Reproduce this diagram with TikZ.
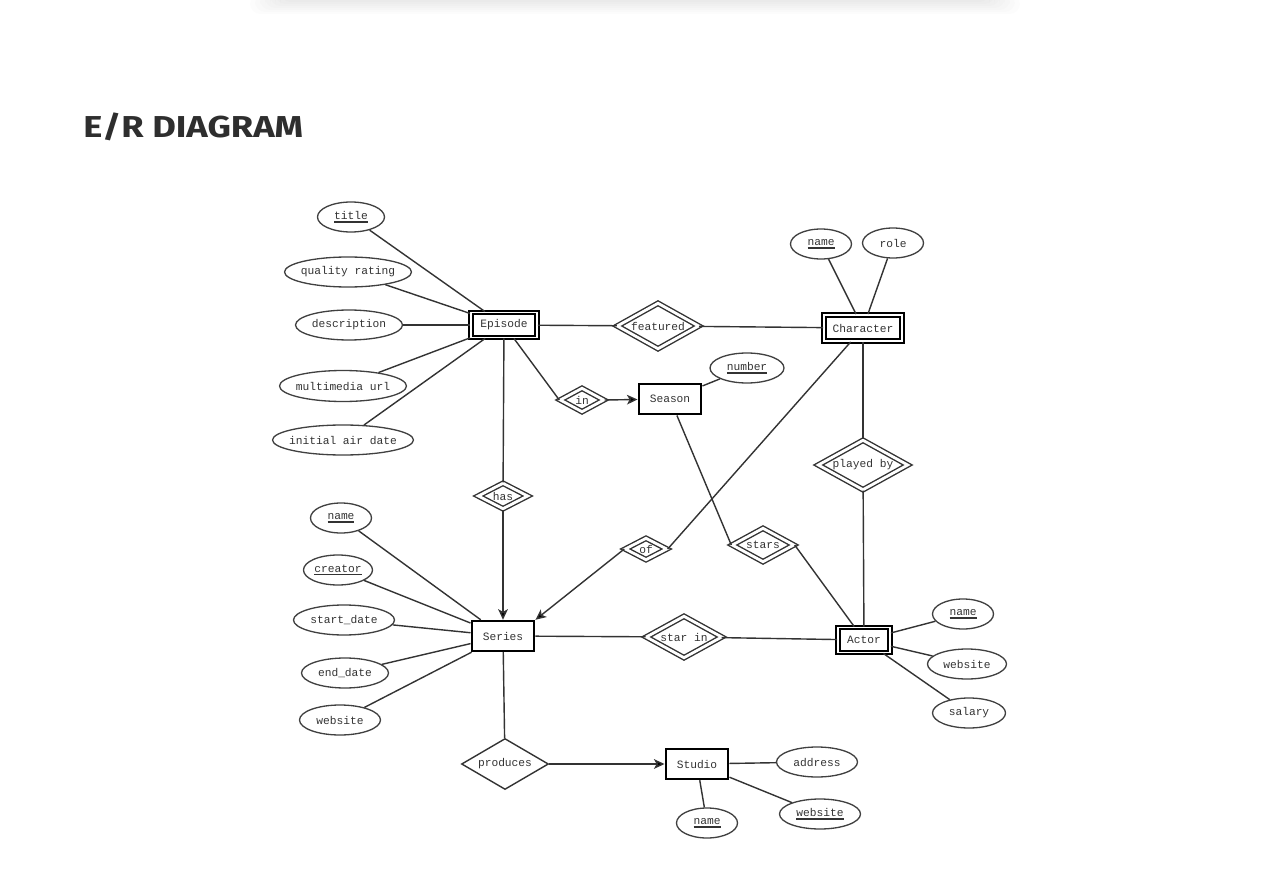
\documentclass[tikz,border=0pt]{standalone}
\usepackage{fontspec}
\setmonofont{Liberation Mono}
\newfontfamily\titlefont{Fira Sans}
\usetikzlibrary{shapes.geometric, arrows.meta}

\newcommand{\keyattr}[1]{\setbox0=\hbox{#1}\rlap{\rule[-1.7pt]{\wd0}{0.9pt}}\box0}

\begin{document}
\begin{tikzpicture}[x=0.02cm, y=-0.02cm,
    every node/.style={font=\ttfamily\fontsize{6.4}{7}\selectfont, text=black!80},
    entity/.style={draw=black, line width=1.4pt, inner sep=0pt, minimum width=1.25cm, minimum height=0.6cm},
    weak/.style={draw=black, double, line width=1.1pt, double distance=1.1pt, inner sep=0pt},
    rel/.style={diamond, draw=black!80, line width=0.8pt, inner sep=0pt, shape aspect=1.7},
    idrel/.style={rel, double, double distance=1.6pt},
    attr/.style={ellipse, draw=black!75, line width=0.75pt, inner xsep=-2.5pt, inner ysep=0pt, minimum height=0.6cm},
    link/.style={draw=black!80, line width=0.8pt},
    to/.style={-{Stealth[length=6pt, width=5.5pt, inset=1.5pt]}}]
    \useasboundingbox (0,0) rectangle (1282,882);

    % shadow of the page above
    \foreach \i in {0,...,6}
        \fill[black, opacity=0.012, rounded corners=6pt] (250+5*\i,-6) rectangle (1020-5*\i,14-2*\i);

    \node[anchor=base west, inner sep=0pt, font=\titlefont\bfseries\fontsize{17.2}{20}\selectfont, text=black!82] (heading) at (83,137) {\scalebox{1.2}[1]{E/R DIAGRAM}};

    % entities
    \node[weak, minimum width=1.32cm, minimum height=0.5cm] (episode) at (504,325) {Episode};
    \node[weak, minimum width=1.56cm, minimum height=0.52cm] (character) at (863,328) {Character};
    \node[weak, minimum width=1.04cm, minimum height=0.5cm] (actor) at (864,640) {Actor};
    \node[entity, minimum height=0.61cm] (season) at (670,399) {Season};
    \node[entity] (series) at (503,636) {Series};
    \node[entity] (studio) at (697,764) {Studio};

    % relationships
    \node[idrel, minimum width=1.64cm, minimum height=0.92cm] (featured) at (658,326) {featured};
    \node[idrel, minimum width=0.88cm, minimum height=0.48cm] (in) at (582,400) {in};
    \node[idrel, minimum width=1.0cm, minimum height=0.52cm] (has) at (503,496) {has};
    \node[idrel, minimum width=0.84cm, minimum height=0.44cm] (of) at (646,549) {of};
    \node[idrel, minimum width=1.24cm, minimum height=0.68cm] (stars) at (763,545) {stars};
    \node[idrel, minimum width=1.8cm, minimum height=1.0cm] (playedby) at (863,465) {played by};
    \node[idrel, minimum width=1.52cm, minimum height=0.84cm] (starin) at (684,637) {star in};
    \node[rel, minimum width=1.74cm, minimum height=1.02cm] (produces) at (505,764) {produces};

    % attributes
    \node[attr, minimum width=1.34cm] (title) at (351,217) {\keyattr{title}};
    \node[attr, minimum width=2.54cm] (quality) at (348,272) {quality rating};
    \node[attr, minimum width=2.14cm] (description) at (349,325) {description};
    \node[attr, minimum width=2.54cm, minimum height=0.62cm] (media) at (343,386) {multimedia url};
    \node[attr, minimum width=2.82cm] (airdate) at (343,440) {initial air date};

    \node[attr, minimum width=1.22cm] (charname) at (821,244) {\keyattr{name}};
    \node[attr, minimum width=1.22cm] (role) at (893,243) {role};
    \node[attr, minimum width=1.48cm] (number) at (747,368) {\keyattr{number}};

    \node[attr, minimum width=1.22cm] (seriesname) at (341,518) {\keyattr{name}};
    \node[attr, minimum width=1.38cm] (creator) at (338,570) {\keyattr{creator}};
    \node[attr, minimum width=2.02cm] (startdate) at (344,620) {start\_date};
    \node[attr, minimum width=1.74cm] (enddate) at (345,673) {end\_date};
    \node[attr, minimum width=1.62cm] (serieswebsite) at (340,720) {website};

    \node[attr, minimum width=1.22cm] (actorname) at (963,614) {\keyattr{name}};
    \node[attr, minimum width=1.58cm] (actorwebsite) at (967,664) {website};
    \node[attr, minimum width=1.46cm] (salary) at (969,713) {salary};

    \node[attr, minimum width=1.62cm] (address) at (817,762) {address};
    \node[attr, minimum width=1.62cm] (studiowebsite) at (820,814) {\keyattr{website}};
    \node[attr, minimum width=1.22cm] (studioname) at (707,823) {\keyattr{name}};

    \draw[link]
    (title) edge (episode)
    (quality) edge (episode)
    (description) edge (episode)
    (media) edge (episode)
    (airdate) edge (episode)
    (charname) edge (character)
    (role) edge (character)
    (number) edge (season)
    (seriesname) edge (series)
    (creator) edge (series)
    (startdate) edge (series)
    (enddate) edge (series)
    (serieswebsite) edge (series)
    (actorname) edge (actor)
    (actorwebsite) edge (actor)
    (salary) edge (actor)
    (address) edge (studio)
    (studiowebsite) edge (studio)
    (studioname) edge (studio)
    (episode) edge (featured)
    (featured) edge (character)
    (episode) edge (in.west)
    (in.east) edge[to] (season)
    (episode) edge (has)
    (has) edge[to] (series)
    (character) edge (of.east)
    (of.west) edge[to] (series.north east)
    (season) edge (stars.west)
    (stars.east) edge (actor)
    (character) edge (playedby)
    (playedby) edge (actor)
    (series) edge (starin)
    (starin) edge (actor)
    (series) edge (produces)
    (produces.east) edge[to] (studio);
\end{tikzpicture}
\end{document}
